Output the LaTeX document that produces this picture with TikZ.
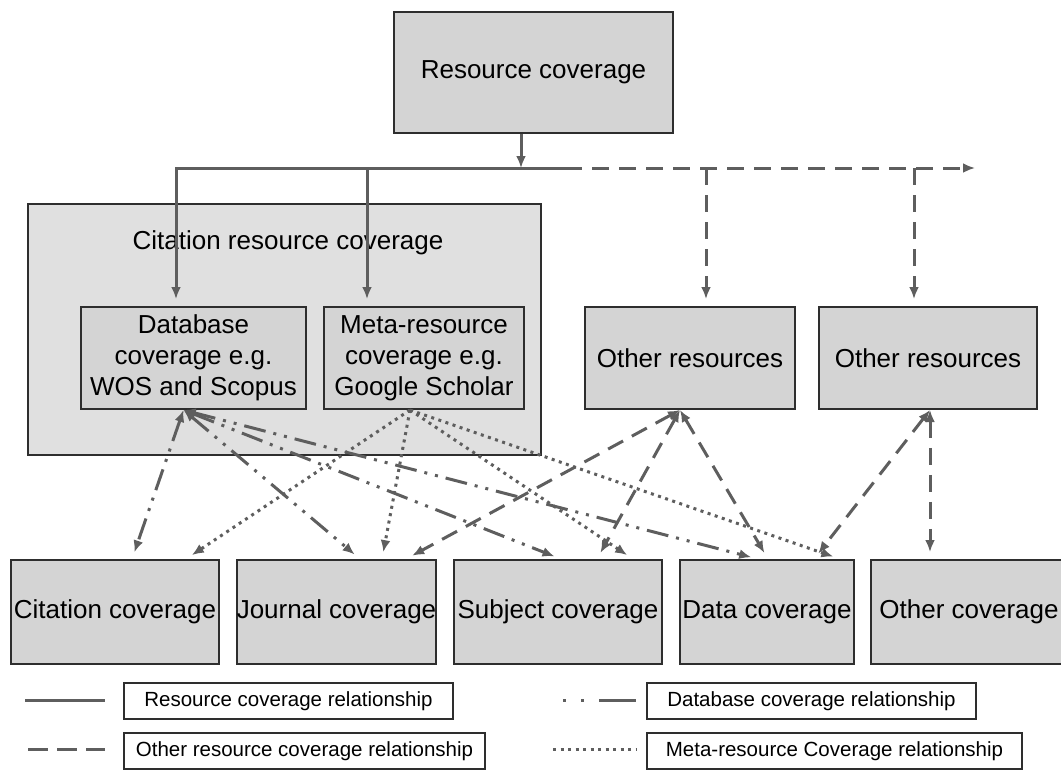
\documentclass[tikz,border=0pt]{standalone}
\usepackage{fontspec}
\setmainfont{Liberation Sans}
\usetikzlibrary{arrows.meta}
\definecolor{linegray}{HTML}{5E5E5E}
\definecolor{boxline}{HTML}{2E2E2E}
\definecolor{boxfill}{HTML}{D4D4D4}
\definecolor{outerfill}{HTML}{E0E0E0}
\newcommand{\boxfont}{\fontsize{26}{31}\selectfont}
\newcommand{\legfont}{\fontsize{20.5}{24}\selectfont}
\tikzset{
  box/.style={draw=boxline, fill=boxfill, line width=2pt, inner sep=0pt, align=center, font=\boxfont},
  legbox/.style={draw=boxline, fill=white, line width=1.8pt, inner sep=0pt, minimum height=36, font=\legfont},
  tip/.style={-{Latex[length=12pt,width=10pt]}},
  bothtips/.style={{Latex[length=12pt,width=10pt]}-{Latex[length=12pt,width=10pt]}},
  reslink/.style={draw=linegray, line width=3pt},
  othlink/.style={draw=linegray, line width=3pt, dash pattern=on 17pt off 10pt},
  dblink/.style={draw=linegray, line width=3pt, dash pattern=on 22pt off 8pt on 3pt off 8pt on 3pt off 8pt},
  metalink/.style={draw=linegray, line width=3pt, dash pattern=on 3pt off 4.5pt},
}
\begin{document}
\begin{tikzpicture}[x=1pt,y=-1pt]
\useasboundingbox (0,0) rectangle (1061,769);
% boxes
\node[box, minimum width=279, minimum height=121] (res) at (533.5,72.5) {Resource coverage};
\node[box, fill=outerfill, minimum width=513, minimum height=251] (crc) at (284.5,329.5) {};
\node[font=\boxfont] (crctitle) at (288,243) {Citation resource coverage};
\node[box, minimum width=225, minimum height=102] (db) at (193.5,358) {Database\\coverage e.g.\\WOS and Scopus};
\node[box, minimum width=200, minimum height=102] (meta) at (424,358) {Meta-resource\\coverage e.g.\\Google Scholar};
\node[box, minimum width=210, minimum height=102] (oth1) at (690,358) {Other resources};
\node[box, minimum width=218, minimum height=102] (oth2) at (928,358) {Other resources};
\node[box, minimum width=208, minimum height=104] (cit) at (115,612) {Citation coverage};
\node[box, minimum width=199, minimum height=104] (jou) at (336.5,612) {Journal coverage};
\node[box, minimum width=208, minimum height=104] (sub) at (558,612) {Subject coverage};
\node[box, minimum width=174, minimum height=104] (dat) at (767,612) {Data coverage};
\node[box, minimum width=196, minimum height=104] (ocov) at (969,612) {Other coverage};

% resource tree
\coordinate (split) at (521,168);
\coordinate (barmid) at (565,168);
\coordinate (barend) at (975,168);
\coordinate (drop1) at (706,168);
\coordinate (drop2) at (914,168);
\draw[reslink,tip] ([xshift=-12.5]res.south) -- (split);
\draw[reslink,tip,shorten >=7pt] (split) -| ([xshift=-17.5]db.north);
\draw[reslink,tip,shorten >=7pt] (split) -| ([xshift=-57]meta.north);
\draw[reslink] (split) -- (barmid);
\draw[othlink,tip] (barmid) -- (barend);
\draw[othlink,tip,shorten >=7pt] (drop1) -- ([xshift=16]oth1.north);
\draw[othlink,tip,shorten >=7pt] (drop2) -- ([xshift=-14]oth2.north);

% database links
\draw[dblink,bothtips,shorten >=7pt] ([xshift=-10]db.south) -- ([xshift=17]cit.north);
\draw[dblink,bothtips,shorten >=7pt] ([xshift=-10]db.south) -- ([xshift=23.5]jou.north);
\draw[dblink,bothtips,shorten >=7pt] ([xshift=-10]db.south) -- ([xshift=3]sub.north);
\draw[dblink,bothtips,shorten >=7pt] ([xshift=-10]db.south) -- ([xshift=-9]dat.north);

% meta-resource links
\draw[metalink,tip,shorten >=7pt] ([xshift=-14]meta.south) -- ([xshift=71]cit.north);
\draw[metalink,tip,shorten >=7pt] ([xshift=-14]meta.south) -- ([xshift=45.5]jou.north);
\draw[metalink,tip,shorten >=7pt] ([xshift=-14]meta.south) -- ([xshift=75]sub.north);
\draw[metalink,tip,shorten >=7pt] ([xshift=-14]meta.south) -- ([xshift=73]dat.north);

% other resource links
\draw[othlink,bothtips,shorten >=7pt] ([xshift=-10]oth1.south) -- ([xshift=69.5]jou.north);
\draw[othlink,bothtips,shorten >=7pt] ([xshift=-10]oth1.south) -- ([xshift=39]sub.north);
\draw[othlink,bothtips,shorten >=7pt] ([xshift=-10]oth1.south) -- ([xshift=1]dat.north);
\draw[othlink,bothtips,shorten >=7pt] ([xshift=2]oth2.south) -- ([xshift=47]dat.north);
\draw[othlink,bothtips,shorten >=7pt] ([xshift=2]oth2.south) -- ([xshift=-39]ocov.north);

% legend
\node[legbox, minimum width=329] (lg1) at (288.5,701) {Resource coverage relationship};
\node[legbox, minimum width=329] (lg2) at (811.5,701) {Database coverage relationship};
\node[legbox, minimum width=361] (lg3) at (304.5,751) {Other resource coverage relationship};
\node[legbox, minimum width=375] (lg4) at (834.5,751) {Meta-resource Coverage relationship};
\coordinate (s1a) at (25,700);  \coordinate (s1b) at (105,700);
\coordinate (s2a) at (563,700); \coordinate (s2b) at (636,700);
\coordinate (s3a) at (28,749);  \coordinate (s3b) at (105,749);
\coordinate (s4a) at (553,749); \coordinate (s4b) at (636,749);
\draw[reslink] (s1a) -- (s1b);
\draw[draw=linegray, line width=3pt, dash pattern=on 3pt off 15pt on 3pt off 15pt on 40pt] (s2a) -- (s2b);
\draw[draw=linegray, line width=3pt, dash pattern=on 20pt off 9pt] (s3a) -- (s3b);
\draw[metalink] (s4a) -- (s4b);
\end{tikzpicture}
\end{document}
